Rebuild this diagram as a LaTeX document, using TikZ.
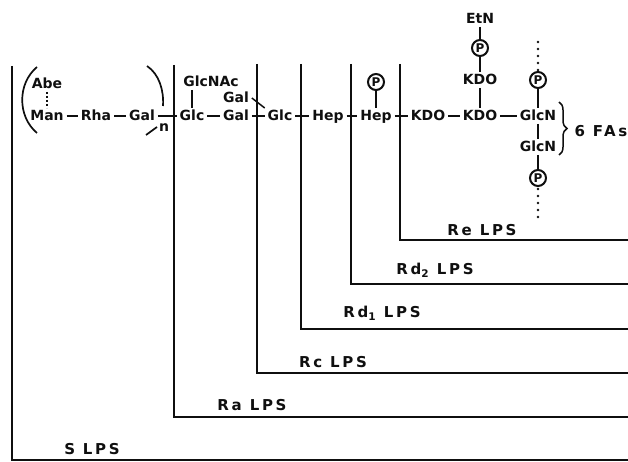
\documentclass[tikz,border=0pt]{standalone}
\usepackage{fontspec}
\setmainfont{DejaVu Sans}
\newfontfamily\lpsfont[LetterSpace=18]{DejaVu Sans}
\usepackage{xcolor}
\definecolor{ink}{RGB}{15,15,15}
\usetikzlibrary{positioning,decorations.pathreplacing}
\begin{document}
\begin{tikzpicture}[
  x=1pt,y=-1pt,
  sugar/.style={inner sep=0pt,outer sep=3pt,text height=10pt,text depth=0pt,
                font=\fontsize{14}{16}\selectfont\bfseries,text=ink},
  lps/.style={inner sep=0pt,font=\lpsfont\fontsize{15}{17}\selectfont\bfseries,text=ink},
  phos/.style={circle,draw=ink,line width=2pt,inner sep=0pt,minimum size=16pt,
               font=\fontsize{12}{13}\selectfont\bfseries,text=ink},
  bond/.style={draw=ink,line width=1.5pt},
  bound/.style={draw=ink,line width=1.7pt},
  dots/.style={draw=ink,line width=2.6pt,line cap=round,dash pattern=on 0pt off 7pt},
]
  \useasboundingbox (0,0) rectangle (628,462);
  %% Main chain
  \node[sugar](man) at (47,116){Man};
  \node[sugar](rha) at (96,116){Rha};
  \node[sugar](gal1) at (142,116){Gal};
  \node[sugar](glc1) at (192,116){Glc};
  \node[sugar](gal2) at (236,116){Gal};
  \node[sugar](glc2) at (280,116){Glc};
  \node[sugar](hep1) at (328,116){Hep};
  \node[sugar](hep2) at (376,116){Hep};
  \node[sugar](kdo1) at (428,116){KDO};
  \node[sugar](kdo2) at (480,116){KDO};
  \node[sugar](glcn1) at (538,116){GlcN};
  %% Side groups
  \node[sugar](abe) at (47,84){Abe};
  \node[sugar](glcnac) at (211,82){GlcNAc};
  \node[sugar](gal3) at (236,98){Gal};
  \node[phos](p1) at (376,82){P};
  \node[sugar](kdo3) at (480,80){KDO};
  \node[phos](p2) at (480,48){P};
  \node[sugar](etn) at (480,19){EtN};
  \node[phos](p3) at (538,80){P};
  \node[sugar](glcn2) at (538,147){GlcN};
  \node[phos](p4) at (538,178){P};
  \node[lps](fas) at (601,131){6 FAs};
  \coordinate(dot1) at (538,42);
  \coordinate(dot2) at (538,217);
  %% Bonds
  \draw[bond](man)--(rha);
  \draw[bond](rha)--(gal1);
  \draw[bond](gal1)--(glc1);
  \draw[bond](glc1)--(gal2);
  \draw[bond](gal2)--(glc2);
  \draw[bond](glc2)--(hep1);
  \draw[bond](hep1)--(hep2);
  \draw[bond](hep2)--(kdo1);
  \draw[bond](kdo1)--(kdo2);
  \draw[bond](kdo2)--(glcn1);
  \draw[bond,dash pattern=on 2pt off 2pt](abe)--(man);
  \draw[bond](glcnac.south -| glc1.north)--(glc1.north);
  \draw[bond](gal3.east)--(glc2.north west);
  \draw[bond](p1)--(hep2);
  \draw[bond](kdo3)--(kdo2);
  \draw[bond](p2)--(kdo3);
  \draw[bond](etn)--(p2);
  \draw[bond](p3)--(glcn1);
  \draw[bond](glcn1)--(glcn2);
  \draw[bond](glcn2)--(p4);
  \draw[dots](dot1)--(p3);
  \draw[dots](dot2)--(p4);
  %% Parentheses
  \draw[bound](37,67) to[bend right=50] (37,133);
  \draw[bound](147,66) .. controls (159,74) and (164,90) .. (163,106);
  \coordinate(pa) at (157,127);
  \coordinate(pb) at (146,135);
  \draw[bound](pa)--(pb);
  \node[sugar](rep) at (164,127){n};
  %% Brace
  \draw[bond,decorate,decoration={brace,amplitude=8pt}](559,102)--(559,155);
  %% Core boundaries
  \node[lps](s) at (92,449){S LPS};
  \node[lps](ra) at (252,405){Ra LPS};
  \node[lps](rc) at (333,362){Rc LPS};
  \node[lps](rd1) at (382,313){Rd\textsubscript{1} LPS};
  \node[lps](rd2) at (435,270){Rd\textsubscript{2} LPS};
  \node[lps](re) at (482,230){Re LPS};
  \draw[bound,line width=2.2pt](12,66)--(12,460)--(628,460);
  \draw[bound](174,65)--(174,417)--(628,417);
  \draw[bound](257,64)--(257,373)--(628,373);
  \draw[bound](301,64)--(301,329)--(628,329);
  \draw[bound](351,64)--(351,284)--(628,284);
  \draw[bound](400,64)--(400,240)--(628,240);
\end{tikzpicture}
\end{document}
